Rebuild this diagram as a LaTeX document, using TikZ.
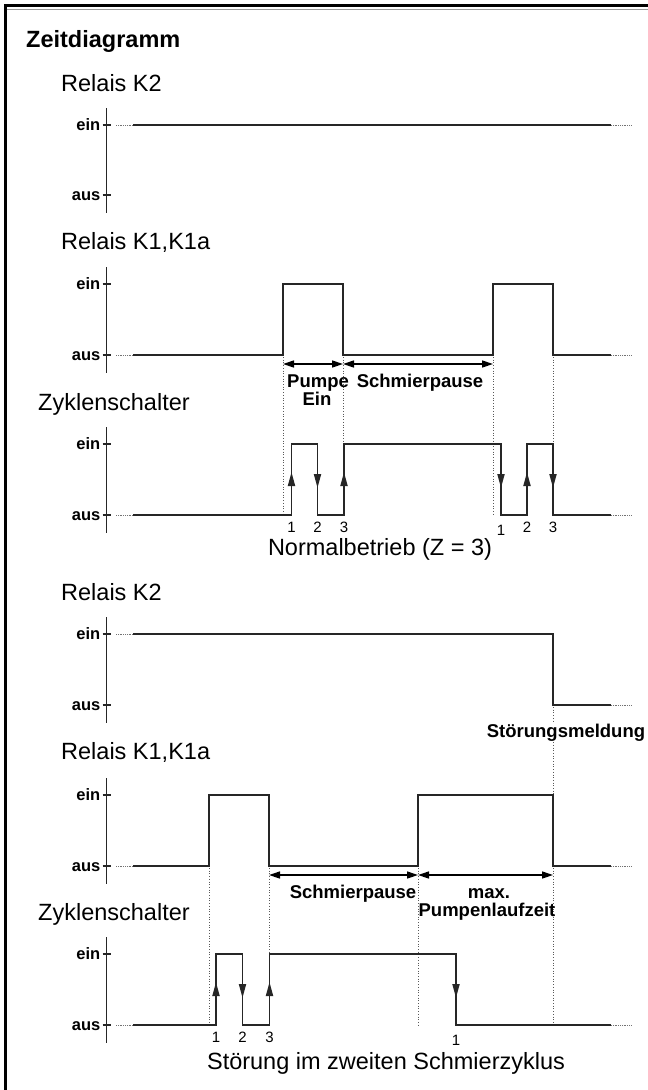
\documentclass[tikz,border=0pt]{standalone}
\usepackage{fontspec}
\setmainfont{Liberation Sans}
\usetikzlibrary{arrows.meta}
\newcommand\panelaxis[3]{%
  \draw[axisline] (106.7,#1-17) -- (106.7,#2+18);
  \draw[axisline] (102.5,#1) -- (111,#1);
  \draw[axisline] (102.5,#2) -- (111,#2);
  \node[lvl] (#3ein) at (100.5,#1+5.5) {ein};
  \node[lvl] (#3aus) at (100.5,#2+5.5) {aus};}
\begin{document}
\begin{tikzpicture}[x=1pt,y=-1pt,
  sig/.style={line width=1.8pt, draw=black!85, line join=miter},
  dots/.style={dotted, line width=0.7pt, draw=black!65},
  lead/.style={densely dotted, line width=0.8pt, draw=black!55},
  axisline/.style={line width=1.5pt, draw=black!85},
  lvl/.style={font=\fontsize{16.5}{17}\selectfont\bfseries, anchor=base east, inner sep=0pt},
  lab/.style={font=\fontsize{23.5}{25}\selectfont, anchor=base west, inner sep=0pt},
  captext/.style={font=\fontsize{23.5}{25}\selectfont, anchor=base, inner sep=0pt},
  blab/.style={font=\fontsize{18.5}{20}\selectfont\bfseries, anchor=base, inner sep=0pt},
  num/.style={font=\fontsize{15}{15}\selectfont, anchor=base, inner sep=0pt},
  dim/.style={line width=1.4pt, {Triangle[length=11pt,width=7pt]}-{Triangle[length=11pt,width=7pt]}},
  uparr/.style={line width=1.8pt, draw=black!85, -{Triangle[length=14pt,width=7pt]}},
]
\useasboundingbox (0,0) rectangle (648,1090);
% frame
\draw[line width=3pt] (5,1090) -- (5,5.5) -- (648,5.5);
\draw[line width=1pt, black!40] (6.5,9) -- (648,9);

\node[lab, font=\fontsize{23.5}{25}\selectfont\bfseries] (title) at (26,47.5) {Zeitdiagramm};

% ---------- Panel 1: Relais K2
\node[lab] (l1) at (61,91) {Relais K2};
\panelaxis{125}{195}{pa}
\draw[lead] (116,125) -- (133,125);
\draw[sig] (133,125) -- (611,125);
\draw[lead] (611,125) -- (632,125);

% ---------- Panel 2: Relais K1,K1a
\node[lab] (l2) at (61,249) {Relais K1,K1a};
\panelaxis{284}{355}{pb}
\draw[lead] (116,355) -- (133,355);
\draw[sig] (133,355) -- (283,355) -- (283,284) -- (343,284) -- (343,355) -- (493,355) -- (493,284) -- (553,284) -- (553,355) -- (611,355);
\draw[lead] (611,355) -- (632,355);
\draw[dots] (283,357) -- (283,515);
\draw[dots] (343,357) -- (343,444);
\draw[dots] (493,357) -- (493,515);
\draw[dots] (553,357) -- (553,444);
\draw[dim] (283,364) -- (343,364);
\draw[dim] (343,364) -- (493,364);
\node[blab] (pumpe) at (318,387) {Pumpe};
\node[blab] (ein1) at (317,405) {Ein};
\node[blab] (pause1) at (420,387) {Schmierpause};

% ---------- Panel 3: Zyklenschalter
\node[lab] (l3) at (38,410) {Zyklenschalter};
\panelaxis{444}{515}{pc}
\draw[lead] (116,515) -- (133,515);
\draw[sig] (133,515) -- (291.5,515) -- (291.5,444) -- (317.5,444) -- (317.5,515) -- (344,515) -- (344,444) -- (501,444) -- (501,515) -- (527,515) -- (527,444) -- (553,444) -- (553,515) -- (611,515);
\draw[lead] (611,515) -- (632,515);
\draw[uparr] (291.5,500) -- (291.5,472);
\draw[uparr] (317.5,460) -- (317.5,488);
\draw[uparr] (344,500) -- (344,472);
\draw[uparr] (501,460) -- (501,488);
\draw[uparr] (527,500) -- (527,472);
\draw[uparr] (553,460) -- (553,488);
\node[num] (n1) at (291.5,532) {1};
\node[num] (n2) at (317.5,532) {2};
\node[num] (n3) at (344,532) {3};
\node[num] (n4) at (501,535) {1};
\node[num] (n5) at (527,532) {2};
\node[num] (n6) at (553,532) {3};
\node[captext] (normal) at (380,555) {Normalbetrieb (Z = 3)};

% ---------- Panel 4: Relais K2
\node[lab] (l4) at (61,600) {Relais K2};
\panelaxis{634}{705}{pd}
\draw[lead] (116,634) -- (133,634);
\draw[sig] (133,634) -- (553,634) -- (553,705) -- (611,705);
\draw[lead] (611,705) -- (632,705);
\draw[dots] (553,707) -- (553,795);
\node[blab, fill=white, inner sep=1pt] (stoer) at (566,737) {Störungsmeldung};

% ---------- Panel 5: Relais K1,K1a
\node[lab] (l5) at (61,759) {Relais K1,K1a};
\panelaxis{795}{866}{pe}
\draw[lead] (116,866) -- (133,866);
\draw[sig] (133,866) -- (209,866) -- (209,795) -- (269,795) -- (269,866) -- (418,866) -- (418,795) -- (553,795) -- (553,866) -- (611,866);
\draw[lead] (611,866) -- (632,866);
\draw[dots] (209,868) -- (209,1025);
\draw[dots] (269,868) -- (269,954);
\draw[dots] (418,868) -- (418,1025);
\draw[dots] (553,868) -- (553,1025);
\draw[dim] (269,875) -- (418,875);
\draw[dim] (418,875) -- (553,875);
\node[blab] (pause2) at (353,898) {Schmierpause};
\node[blab] (max) at (489,898) {max.};
\node[blab] (lauf) at (487,916) {Pumpenlaufzeit};

% ---------- Panel 6: Zyklenschalter
\node[lab] (l6) at (38,920) {Zyklenschalter};
\panelaxis{954}{1025}{pf}
\draw[lead] (116,1025) -- (133,1025);
\draw[sig] (133,1025) -- (216,1025) -- (216,954) -- (242.5,954) -- (242.5,1025) -- (269.5,1025) -- (269.5,954) -- (456,954) -- (456,1025) -- (611,1025);
\draw[lead] (611,1025) -- (632,1025);
\draw[uparr] (216,1010) -- (216,982);
\draw[uparr] (242.5,970) -- (242.5,998);
\draw[uparr] (269.5,1010) -- (269.5,982);
\draw[uparr] (456,970) -- (456,998);
\node[num] (m1) at (216,1042) {1};
\node[num] (m2) at (242.5,1042) {2};
\node[num] (m3) at (269.5,1042) {3};
\node[num] (m4) at (456,1045) {1};
\node[captext] (stoerung) at (386,1069) {Störung im zweiten Schmierzyklus};
\end{tikzpicture}
\end{document}
